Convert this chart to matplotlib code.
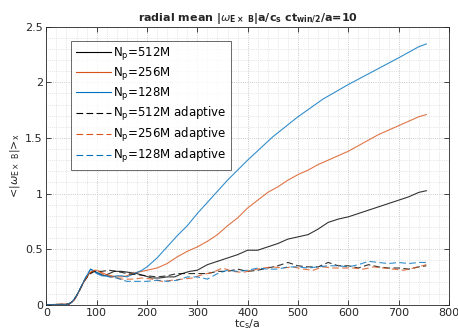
"""Radial mean |omega_ExB| vs time, fixed vs adaptive particle counts."""
import numpy as np
import matplotlib
matplotlib.use("Agg")
import matplotlib.pyplot as plt
from matplotlib.ticker import MultipleLocator

# ---- data ----
t_512 = [0, 45, 55, 65, 75, 85, 95, 105, 115, 125, 135, 150, 165, 180, 195, 210, 225, 240, 255, 270,
         285, 300, 320, 340, 360, 380, 400, 420, 440, 460, 480, 500, 520, 540, 560, 580, 600, 620,
         640, 660, 680, 700, 720, 740, 755]
w_512 = [0, 0.005, 0.04, 0.12, 0.21, 0.28, 0.30, 0.28, 0.26, 0.28, 0.30, 0.30, 0.29, 0.28, 0.26, 0.24,
         0.24, 0.25, 0.25, 0.28, 0.30, 0.31, 0.36, 0.39, 0.42, 0.45, 0.49, 0.49, 0.52, 0.55, 0.59, 0.61,
         0.63, 0.68, 0.74, 0.77, 0.79, 0.82, 0.85, 0.88, 0.91, 0.94, 0.97, 1.01, 1.025]

t_256 = [0, 45, 55, 65, 75, 85, 95, 100, 110, 120, 130, 140, 150, 160, 170, 180, 200, 220, 240, 260,
         280, 300, 320, 340, 360, 380, 400, 420, 440, 460, 480, 500, 520, 540, 560, 580, 600, 620,
         640, 660, 680, 700, 720, 740, 755]
w_256 = [0, 0.005, 0.04, 0.12, 0.21, 0.28, 0.31, 0.31, 0.29, 0.27, 0.26, 0.25, 0.25, 0.26, 0.28, 0.29,
         0.31, 0.33, 0.37, 0.43, 0.48, 0.52, 0.57, 0.63, 0.71, 0.78, 0.87, 0.94, 1.01, 1.06, 1.12, 1.17,
         1.21, 1.26, 1.30, 1.34, 1.38, 1.43, 1.48, 1.53, 1.57, 1.61, 1.65, 1.69, 1.71]

t_128 = [0, 40, 50, 60, 70, 80, 88, 95, 100, 110, 120, 130, 140, 150, 160, 170, 180, 190, 200, 220,
         240, 260, 280, 300, 320, 340, 360, 380, 400, 450, 500, 550, 600, 650, 700, 740, 755]
w_128 = [0, 0, 0.02, 0.08, 0.17, 0.26, 0.32, 0.30, 0.28, 0.26, 0.26, 0.25, 0.26, 0.26, 0.25, 0.27,
         0.29, 0.31, 0.34, 0.42, 0.52, 0.62, 0.71, 0.82, 0.92, 1.02, 1.12, 1.21, 1.30, 1.51, 1.69, 1.85,
         1.98, 2.10, 2.22, 2.32, 2.345]

t_512a = [0, 45, 55, 65, 75, 85, 95, 110, 125, 140, 160, 180, 200, 220, 240, 260, 280, 300, 320, 340,
          360, 380, 400, 420, 440, 460, 480, 500, 520, 540, 560, 580, 600, 620, 640, 660, 680, 700,
          720, 740, 755]
w_512a = [0, 0.005, 0.04, 0.12, 0.21, 0.27, 0.30, 0.30, 0.31, 0.30, 0.28, 0.27, 0.26, 0.25, 0.26, 0.28,
          0.28, 0.28, 0.28, 0.30, 0.30, 0.32, 0.30, 0.31, 0.33, 0.35, 0.38, 0.35, 0.34, 0.34, 0.38, 0.35,
          0.35, 0.33, 0.36, 0.34, 0.33, 0.33, 0.32, 0.34, 0.35]

t_256a = [0, 45, 55, 65, 75, 85, 90, 100, 115, 130, 150, 170, 190, 210, 230, 250, 270, 290, 310, 330,
          350, 370, 390, 410, 430, 450, 470, 490, 510, 530, 550, 570, 590, 610, 630, 650, 670, 690,
          710, 730, 755]
w_256a = [0, 0.005, 0.04, 0.12, 0.21, 0.28, 0.30, 0.31, 0.27, 0.25, 0.23, 0.23, 0.24, 0.23, 0.21, 0.22,
          0.23, 0.24, 0.27, 0.29, 0.33, 0.30, 0.29, 0.31, 0.33, 0.34, 0.33, 0.34, 0.32, 0.31, 0.34, 0.33,
          0.33, 0.33, 0.32, 0.34, 0.33, 0.32, 0.31, 0.33, 0.36]

t_128a = [0, 40, 50, 60, 70, 80, 88, 100, 110, 125, 140, 160, 180, 200, 220, 240, 260, 280, 300, 320,
          340, 360, 380, 400, 420, 440, 460, 480, 500, 520, 540, 560, 580, 600, 620, 640, 660, 680,
          700, 720, 740, 755]
w_128a = [0, 0, 0.02, 0.08, 0.17, 0.26, 0.32, 0.29, 0.27, 0.25, 0.24, 0.21, 0.21, 0.21, 0.22, 0.21,
          0.22, 0.25, 0.25, 0.23, 0.28, 0.31, 0.30, 0.31, 0.33, 0.32, 0.32, 0.34, 0.34, 0.33, 0.34, 0.35,
          0.35, 0.34, 0.36, 0.39, 0.38, 0.37, 0.38, 0.37, 0.38, 0.38]

BLUE = (0.0, 0.447, 0.741)
ORANGE = (0.85, 0.325, 0.098)
BLACK = (0.0, 0.0, 0.0)

fig = plt.figure(figsize=(4.58, 3.32), dpi=100)
ax = fig.add_axes([0.1011, 0.0822, 0.8792, 0.8374])

dash = (0, (6, 3))
series = [
    (t_512, w_512, BLACK, "-", r"N$_\mathregular{p}$=512M"),
    (t_256, w_256, ORANGE, "-", r"N$_\mathregular{p}$=256M"),
    (t_128, w_128, BLUE, "-", r"N$_\mathregular{p}$=128M"),
    (t_512a, w_512a, BLACK, dash, r"N$_\mathregular{p}$=512M adaptive"),
    (t_256a, w_256a, ORANGE, dash, r"N$_\mathregular{p}$=256M adaptive"),
    (t_128a, w_128a, BLUE, dash, r"N$_\mathregular{p}$=128M adaptive"),
]
for t, w, c, ls, lab in series:
    ax.plot(t, w, color=c, ls=ls, lw=0.8, alpha=0.8, label=lab)

ax.set_xlim(0, 800)
ax.set_ylim(0, 2.5)
ax.set_xticks(np.arange(0, 801, 100))
ax.set_yticks([0, 0.5, 1, 1.5, 2, 2.5])
ax.set_yticklabels(["0", "0.5", "1", "1.5", "2", "2.5"])
ax.xaxis.set_minor_locator(MultipleLocator(20))
ax.yaxis.set_minor_locator(MultipleLocator(0.1))
ax.tick_params(which="both", direction="in", top=True, right=True, labelsize=8,
               colors="0.15", width=0.6)
ax.tick_params(which="major", length=3.5, pad=2.5)
ax.tick_params(which="minor", length=0)
ax.grid(which="major", ls=":", color="0.72", lw=0.6)
ax.grid(which="minor", ls=":", color="0.82", lw=0.5)
for s in ax.spines.values():
    s.set_color("0.15")
    s.set_linewidth(0.6)

ax.set_xlabel(r"tc$_\mathregular{s}$/a", fontsize=8, color="0.15", labelpad=-1)
ax.set_ylabel(r"<|$\omega_{\mathregular{E\times\ B}}$|>$_\mathregular{x}$", fontsize=8,
              color="0.15", labelpad=2)
ax.set_title(r"radial mean |$\omega_{\mathbf{E\times\ B}}$|a/c$_\mathbf{s}$ ct$_\mathbf{win/2}$/a=10",
             fontsize=8, fontweight="bold", color="0.15", pad=4)

leg = ax.legend(loc="upper left", bbox_to_anchor=(0.061, 0.95), fontsize=8.5, frameon=True,
                fancybox=False, edgecolor="0.15", handlelength=3.0, handletextpad=0.2,
                labelspacing=0.25, borderpad=0.4, borderaxespad=0)
leg.get_frame().set_linewidth(0.6)
for line in leg.get_lines():
    line.set_alpha(1.0)

fig.savefig("out.png", dpi=100)
